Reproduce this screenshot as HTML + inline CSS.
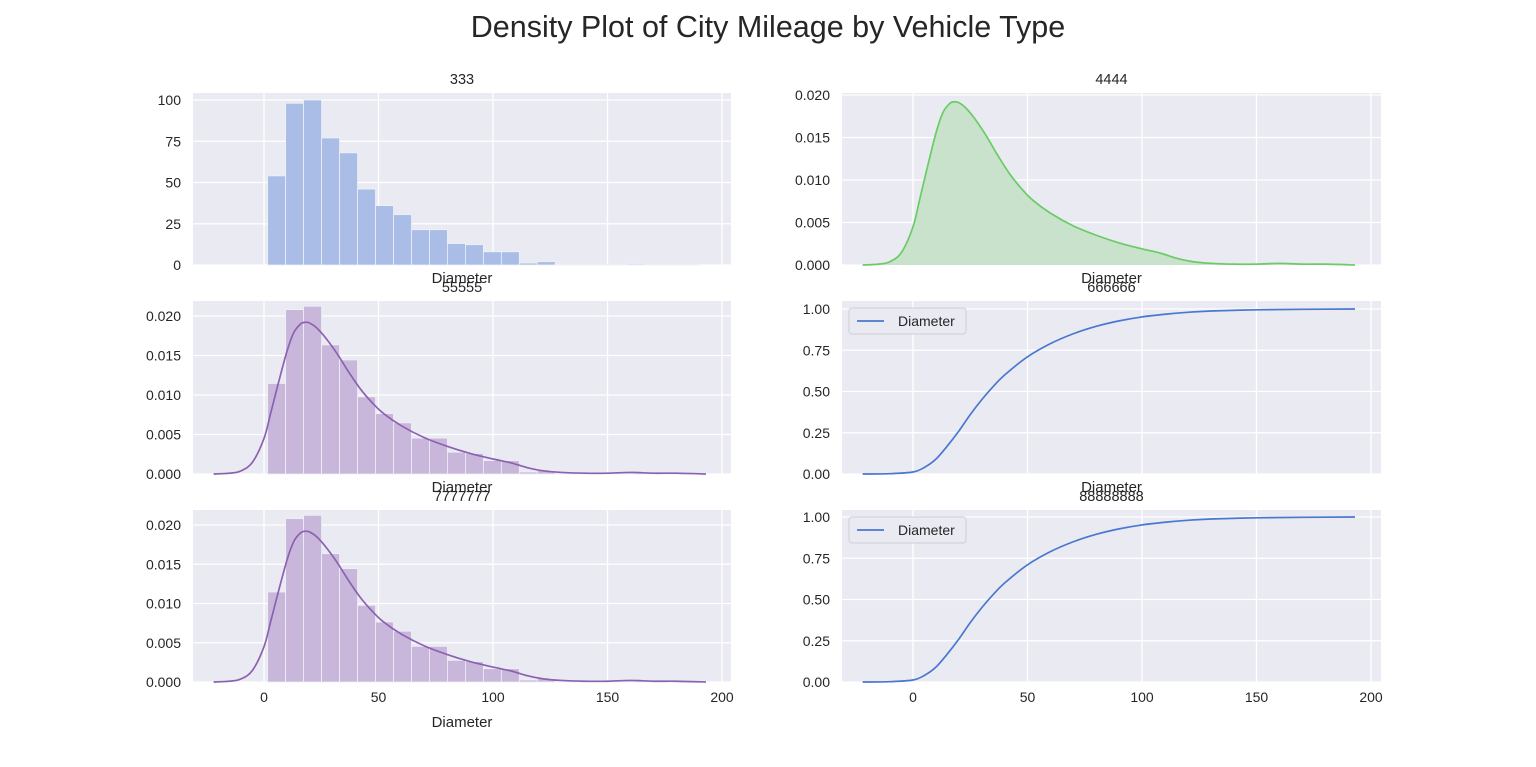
<!DOCTYPE html>
<html><head><meta charset="utf-8"><style>
body{margin:0;background:#fff;}
svg{display:block;font-family:"Liberation Sans",Arial,sans-serif;}
</style></head><body>
<svg id="c" width="1536" height="767" viewBox="0 0 1536 767" xmlns="http://www.w3.org/2000/svg">
<text x="768" y="37" text-anchor="middle" font-size="30.5" fill="#262626">Density Plot of City Mileage by Vehicle Type</text>
</svg>
<script>
// ---- data ----
const binStart = 1.6;
const binWidth = 7.85;
const histCounts = [54, 98, 100, 77, 68, 46, 36, 30.5, 21.4, 21.4, 13, 12.3, 8, 8, 1.2, 2, 0.4, 0.3, 0.3, 0.5, 0.6, 0.3, 0.4, 0.3];
const kdeX = [-22, -15, -10, -5, 0, 3, 6, 10, 13, 16, 18, 20, 23, 27, 32, 37, 42, 47, 52, 60, 70, 80, 90, 100, 108, 115, 122, 130, 140, 150, 160, 170, 180, 193];
const kdeY = [0, 0.0001, 0.0004, 0.0015, 0.0045, 0.0078, 0.0112, 0.0155, 0.0179, 0.0190, 0.0192, 0.0191, 0.0185, 0.0172, 0.0152, 0.0129, 0.0108, 0.0091, 0.0077, 0.0061, 0.0046, 0.0035, 0.0026, 0.0019, 0.0014, 0.0008, 0.0004, 0.0002, 0.0001, 0.0001, 0.0002, 0.0001, 0.0001, 0];
const cdfX = [-22, -10, 0, 5, 10, 15, 20, 25, 30, 35, 40, 50, 60, 70, 80, 90, 100, 110, 120, 130, 150, 170, 193];
const cdfY = [0, 0.002, 0.012, 0.04, 0.09, 0.17, 0.26, 0.36, 0.45, 0.53, 0.60, 0.71, 0.79, 0.85, 0.895, 0.928, 0.952, 0.968, 0.98, 0.988, 0.995, 0.998, 1.0];
const xTicks = [0, 50, 100, 150, 200];
const ticksCount = [0, 25, 50, 75, 100];
const ticksDens = [0, 0.005, 0.010, 0.015, 0.020];
const ticksDensLbl = ["0.000","0.005","0.010","0.015","0.020"];
const ticksCdf = [0, 0.25, 0.5, 0.75, 1.0];
const ticksCdfLbl = ["0.00","0.25","0.50","0.75","1.00"];
const titles = ["333","4444","55555","666666","7777777","88888888"];

const NS = "http://www.w3.org/2000/svg";
const svg = document.getElementById('c');
function mk(tag, attrs, parent){const e=document.createElementNS(NS,tag);for(const k in attrs)e.setAttribute(k,attrs[k]);(parent||svg).appendChild(e);return e;}
function smooth(pts){let d="M"+pts[0][0]+","+pts[0][1];for(let i=0;i<pts.length-1;i++){const p0=pts[i-1]||pts[i],p1=pts[i],p2=pts[i+1],p3=pts[i+2]||p2;const c1=[p1[0]+(p2[0]-p0[0])/6,p1[1]+(p2[1]-p0[1])/6];const c2=[p2[0]-(p3[0]-p1[0])/6,p2[1]-(p3[1]-p1[1])/6];d+=" C"+c1[0]+","+c1[1]+" "+c2[0]+","+c2[1]+" "+p2[0]+","+p2[1];}return d;}

const cols=[{x0:193,x1:731},{x0:842,x1:1381}];
const rows=[{y0:93,y1:265},{y0:301,y1:474},{y0:510,y1:682}];
function xs(col){return v=>264+(v)*(458/200)+(col?649:0);}

const totalN = histCounts.reduce((a,b)=>a+b,0);

function panel(idx, col, row, yScale, yt, ytl, kind){
  const c=cols[col], r=rows[row], X=xs(col);
  const g=mk('g',{});
  
  
  const bg=mk('rect',{x:c.x0,y:r.y0,width:c.x1-c.x0,height:r.y1-r.y0,fill:'#eaeaf2'},g);
  
  
  xTicks.forEach(t=>{const l=mk('line',{x1:X(t),x2:X(t),y1:r.y0,y2:r.y1,stroke:'#fff','stroke-width':1.3},g);
    
    if(row===2){const tx=mk('text',{x:X(t),y:r.y1+20,'text-anchor':'middle','font-size':14,fill:'#262626'},g);tx.textContent=t;
      }});
  yt.forEach((t,i)=>{const y=yScale(t);const l=mk('line',{x1:c.x0,x2:c.x1,y1:y,y2:y,stroke:'#fff','stroke-width':1.3},g);
    
    const tx=mk('text',{x:c.x0-12,y:y+5,'text-anchor':'end','font-size':14,fill:'#262626'},g);tx.textContent=ytl[i];
    });
  const tt=mk('text',{x:(c.x0+c.x1)/2,y:r.y0-9,'text-anchor':'middle','font-size':14.5,fill:'#262626'},g);tt.textContent=titles[idx];
  
  if(col===0){const xl=mk('text',{x:(c.x0+c.x1)/2,y:row===2?r.y1+45:r.y1+18,'text-anchor':'middle','font-size':15,fill:'#262626'},g);xl.textContent='Diameter';
    }
  else if(row<2){const xl=mk('text',{x:(c.x0+c.x1)/2,y:r.y1+18,'text-anchor':'middle','font-size':15,fill:'#262626'},g);xl.textContent='Diameter';
    }
  if(kind==='hist'||kind==='histkde'){
    histCounts.forEach((cnt,i)=>{const v=kind==='hist'?cnt:cnt/(totalN*binWidth);
      const xa=X(binStart+i*binWidth),xb=X(binStart+(i+1)*binWidth);const y=yScale(v);
      const b=mk('rect',{x:xa,y:y,width:xb-xa,height:yScale(0)-y,fill:kind==='hist'?'#a9bde6':'#c8b7da',stroke:'#eef0f8','stroke-width':0.8},g);
      });
  }
  if(kind==='histkde'||kind==='kdefill'){
    const pts=kdeX.map((x,i)=>[X(x),yScale(kdeY[i])]);
    const color=kind==='kdefill'?'#6acc64':'#8c61b1';
    if(kind==='kdefill'){const f=mk('path',{d:smooth(pts)+" L"+pts[pts.length-1][0]+","+yScale(0)+" L"+pts[0][0]+","+yScale(0)+" Z",fill:'#c8e2cb'},g);
      }
    const p=mk('path',{d:smooth(pts),fill:'none',stroke:color,'stroke-width':1.7},g);
    
  }
  if(kind==='cdf'){
    const pts=cdfX.map((x,i)=>[X(x),yScale(cdfY[i])]);
    const p=mk('path',{d:smooth(pts),fill:'none',stroke:'#4878d0','stroke-width':1.7},g);
    
    const lg=mk('g',{},g);
    
    mk('rect',{x:c.x0+7,y:r.y0+7,width:117,height:26,rx:3,fill:'#eaeaf2',stroke:'#cfcfd6'},lg);
    mk('line',{x1:c.x0+15,x2:c.x0+42,y1:r.y0+20,y2:r.y0+20,stroke:'#4878d0','stroke-width':1.7},lg);
    const lt=mk('text',{x:c.x0+56,y:r.y0+25,'font-size':14,fill:'#262626'},lg);lt.textContent='Diameter';
    
  }
}
const yCount=v=>265-v*1.65;
const yDensR1=v=>265-v*8500;
const yDens2=v=>474-v*7900, yDens3=v=>682-v*7850;
const yCdf2=v=>474-v*165, yCdf3=v=>682-v*165;
panel(0,0,0,yCount,ticksCount,ticksCount.map(String),'hist');
panel(1,1,0,yDensR1,ticksDens,ticksDensLbl,'kdefill');
panel(2,0,1,yDens2,ticksDens,ticksDensLbl,'histkde');
panel(3,1,1,yCdf2,ticksCdf,ticksCdfLbl,'cdf');
panel(4,0,2,yDens3,ticksDens,ticksDensLbl,'histkde');
panel(5,1,2,yCdf3,ticksCdf,ticksCdfLbl,'cdf');
</script>
</body></html>
